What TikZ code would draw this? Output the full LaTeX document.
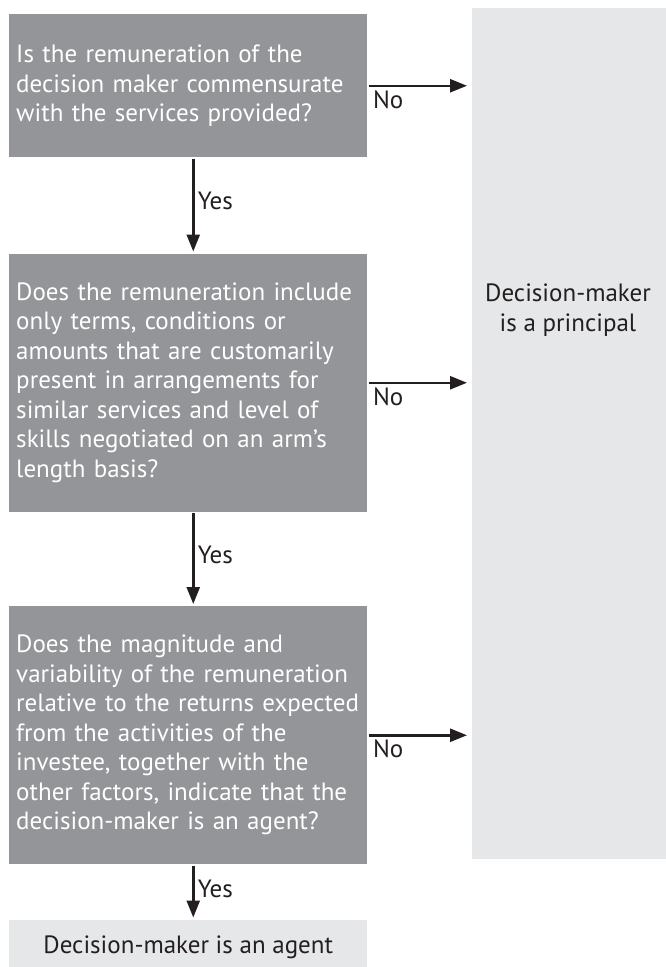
\documentclass[tikz,border=0pt]{standalone}
\usepackage{fontspec}
\setmainfont{PT Sans}
\usetikzlibrary{positioning,arrows.meta}
\definecolor{boxgrey}{HTML}{939598}
\definecolor{panelgrey}{HTML}{E6E7E8}
\definecolor{inkdark}{HTML}{231F20}

\begin{document}
\begin{tikzpicture}[x=1pt,y=1pt,->,>={Triangle[length=17pt,width=13pt]},
                    shorten >=1pt,line width=2.5pt,draw=inkdark,
                    text node/.style={font=\fontsize{25}{29.5}\selectfont,text=inkdark},
                    question/.style={text node,fill=boxgrey,text=white,align=left,
                        text width=344pt,inner xsep=7pt,minimum width=358pt},
                    outcome/.style={text node,fill=panelgrey,align=center}]

        \useasboundingbox (0,0) rectangle (665,-967);

        % Define vertices
        \node[question,minimum height=143pt,anchor=north west] (q1) at (8,-13)
            {Is the remuneration of the\\decision maker commensurate\\with the services provided?};
        \node[question,minimum height=258pt,below=94pt of q1] (q2)
            {Does the remuneration include\\only terms, conditions or\\amounts that are customarily\\present in arrangements for\\similar services and level of\\skills negotiated on an arm’s\\length basis?};
        \node[question,minimum height=258pt,below=92pt of q2] (q3)
            {Does the magnitude and\\variability of the remuneration\\relative to the returns expected\\from the activities of the\\investee, together with the\\other factors, indicate that the\\decision-maker is an agent?};
        \node[outcome,minimum width=358pt,minimum height=55pt,below=53pt of q3] (agent)
            {Decision-maker is an agent};
        \node[outcome,minimum width=194pt,minimum height=851pt,anchor=north west] (panel) at (471,-7) {};
        \node[text node,align=center] (principal) at (568,-310) {Decision-maker\\is a principal};

        % Draw edges
        \path[every node/.style={text node}]
            ([xshift=5pt]q1.south) edge node[pos=0.45,right] {Yes} ([xshift=5pt]q2.north)
            ([xshift=5pt]q2.south) edge node[pos=0.45,right] {Yes} ([xshift=5pt]q3.north)
            ([xshift=5pt]q3.south) edge node[pos=0.45,right] {Yes} ([xshift=5pt]agent.north)
            (q1.east) edge[shorten >=4pt] node[pos=0,anchor=north west] {No} (q1.east -| panel.west)
            (q2.east) edge[shorten >=4pt] node[pos=0,anchor=north west] {No} (q2.east -| panel.west)
            (q3.east) edge[shorten >=4pt] node[pos=0,anchor=north west] {No} (q3.east -| panel.west);

\end{tikzpicture}
\end{document}
